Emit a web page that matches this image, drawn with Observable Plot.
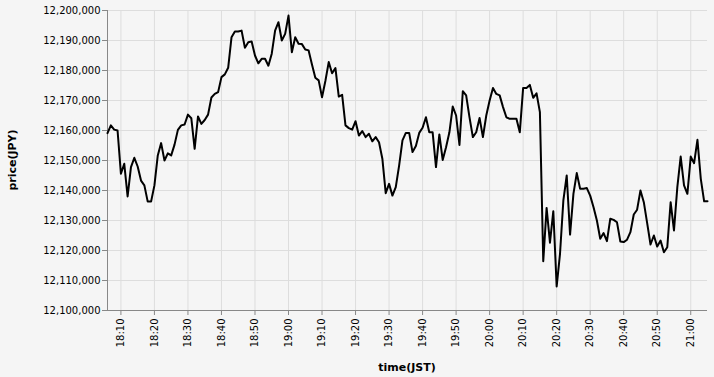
<!DOCTYPE html>
<html><head><meta charset="utf-8">
<script src="https://cdn.jsdelivr.net/npm/d3@7"></script>
<script src="https://cdn.jsdelivr.net/npm/@observablehq/plot@0.6"></script>
<style>html,body{margin:0;padding:0;background:#f5f5f5;overflow:hidden;}</style>
</head><body><div id="chart"></div>
<script>
const times = [
"18:06","18:07","18:08","18:09","18:10","18:11","18:12","18:13","18:14","18:15","18:16","18:17","18:18","18:19",
"18:20","18:21","18:22","18:23","18:24","18:25","18:26","18:27","18:28","18:29",
"18:30","18:31","18:32","18:33","18:34","18:35","18:36","18:37","18:38","18:39",
"18:40","18:41","18:42","18:43","18:44","18:45","18:46","18:47","18:48","18:49",
"18:50","18:51","18:52","18:53","18:54","18:55","18:56","18:57","18:58","18:59",
"19:00","19:01","19:02","19:03","19:04","19:05","19:06","19:07","19:08","19:09",
"19:10","19:11","19:12","19:13","19:14","19:15","19:16","19:17","19:18","19:19",
"19:20","19:21","19:22","19:23","19:24","19:25","19:26","19:27","19:28","19:29",
"19:30","19:31","19:32","19:33","19:34","19:35","19:36","19:37","19:38","19:39",
"19:40","19:41","19:42","19:43","19:44","19:45","19:46","19:47","19:48","19:49",
"19:50","19:51","19:52","19:53","19:54","19:55","19:56","19:57","19:58","19:59",
"20:00","20:01","20:02","20:03","20:04","20:05","20:06","20:07","20:08","20:09",
"20:10","20:11","20:12","20:13","20:14","20:15","20:16","20:17","20:18","20:19",
"20:20","20:21","20:22","20:23","20:24","20:25","20:26","20:27","20:28","20:29",
"20:30","20:31","20:32","20:33","20:34","20:35","20:36","20:37","20:38","20:39",
"20:40","20:41","20:42","20:43","20:44","20:45","20:46","20:47","20:48","20:49",
"20:50","20:51","20:52","20:53","20:54","20:55","20:56","20:57","20:58","20:59",
"21:00","21:01","21:02","21:03","21:04","21:05"
];
const prices = [
12159100,12161700,12160300,12160000,12145600,12148900,12138000,12147800,12150900,12148000,12143300,12141700,12136300,12136300,
12141700,12151700,12155800,12150000,12152400,12151700,12155300,12160200,12161700,12162000,
12165300,12164100,12153900,12164700,12162200,12163500,12165300,12171000,12172200,12172800,
12177800,12178700,12180900,12191100,12193000,12193000,12193300,12187600,12189400,12189700,
12185000,12182400,12183900,12183900,12181600,12185600,12193300,12196100,12190000,12192200,
12198300,12186100,12191100,12188900,12188800,12187000,12186700,12182000,12177600,12176700,
12171100,12176500,12182800,12179100,12180800,12171300,12171900,12161700,12160800,12160300,
12163100,12158300,12159800,12157800,12158900,12156400,12157800,12156100,12150600,12139100,
12142200,12138300,12141100,12148300,12156700,12159200,12159200,12152800,12154800,12159200,
12160900,12164400,12159400,12159400,12147800,12158700,12150200,12154400,12159400,12168000,
12165000,12155200,12173100,12171700,12164400,12157800,12159400,12164200,12157800,12165000,
12170000,12174200,12172200,12171700,12167800,12164400,12163900,12163900,12163900,12159400,
12174200,12174200,12175200,12170900,12172400,12166100,12116400,12134200,12122600,12133100,
12108000,12118900,12136700,12145000,12125300,12138900,12145800,12140600,12140600,12140800,
12138300,12134400,12130000,12123900,12125800,12123100,12130600,12130200,12129400,12123000,
12122800,12123600,12126100,12132000,12133600,12140000,12136100,12129100,12122000,12125000,
12121300,12123300,12119400,12121100,12136100,12126700,12141100,12151300,12141700,12138900,
12151300,12149100,12156900,12143900,12136400,12136400
];
const xTickLabels = ["18:10","18:20","18:30","18:40","18:50","19:00","19:10","19:20","19:30","19:40","19:50","20:00","20:10","20:20","20:30","20:40","20:50","21:00"];
const yTicks = [12100000,12110000,12120000,12130000,12140000,12150000,12160000,12170000,12180000,12190000,12200000];

const toDate = t => { const [h, m] = t.split(":").map(Number); return new Date(Date.UTC(2021, 0, 1, h, m)); };
const data = times.map((t, i) => ({time: toDate(t), price: prices[i]}));
const xTicks = xTickLabels.map(toDate);

const chart = Plot.plot({
  width: 714, height: 377,
  marginLeft: 107, marginRight: 7, marginTop: 10, marginBottom: 67,
  style: {background: "#f5f5f5", fontFamily: "DejaVu Sans, sans-serif", fontSize: "10px", color: "#000"},
  x: {type: "utc"},
  y: {domain: [12100000, 12200000]},
  marks: [
    Plot.gridY(yTicks, {stroke: "#dddddd", strokeOpacity: 1}),
    Plot.gridX(xTicks, {stroke: "#dddddd", strokeOpacity: 1}),
    Plot.ruleY([yTicks[0]], {stroke: "#888"}),
    Plot.ruleX([data[0].time], {stroke: "#888"}),
    Plot.axisY(yTicks, {tickFormat: d3.format(","), tickSize: 5, tickPadding: 2, stroke: "#888", fill: "#000", label: null}),
    Plot.axisX(xTicks, {tickFormat: d3.utcFormat("%H:%M"), tickRotate: -90, tickSize: 5, tickPadding: 3, stroke: "#888", fill: "#000", label: null}),
    Plot.lineY(data, {x: "time", y: "price", stroke: "#000", strokeWidth: 2})
  ]
});
document.getElementById("chart").appendChild(chart);
const svg = d3.select(chart);
svg.append("text").text("price(JPY)")
  .attr("transform", "translate(12.5,160) rotate(-90)")
  .attr("text-anchor", "middle").attr("dy", "0.35em")
  .attr("font-weight", "bold").attr("font-size", 11).attr("fill", "#000");
svg.append("text").text("time(JST)")
  .attr("transform", "translate(407,367)")
  .attr("text-anchor", "middle").attr("dy", "0.35em")
  .attr("font-weight", "bold").attr("font-size", 11).attr("fill", "#000");
</script>
</body></html>
